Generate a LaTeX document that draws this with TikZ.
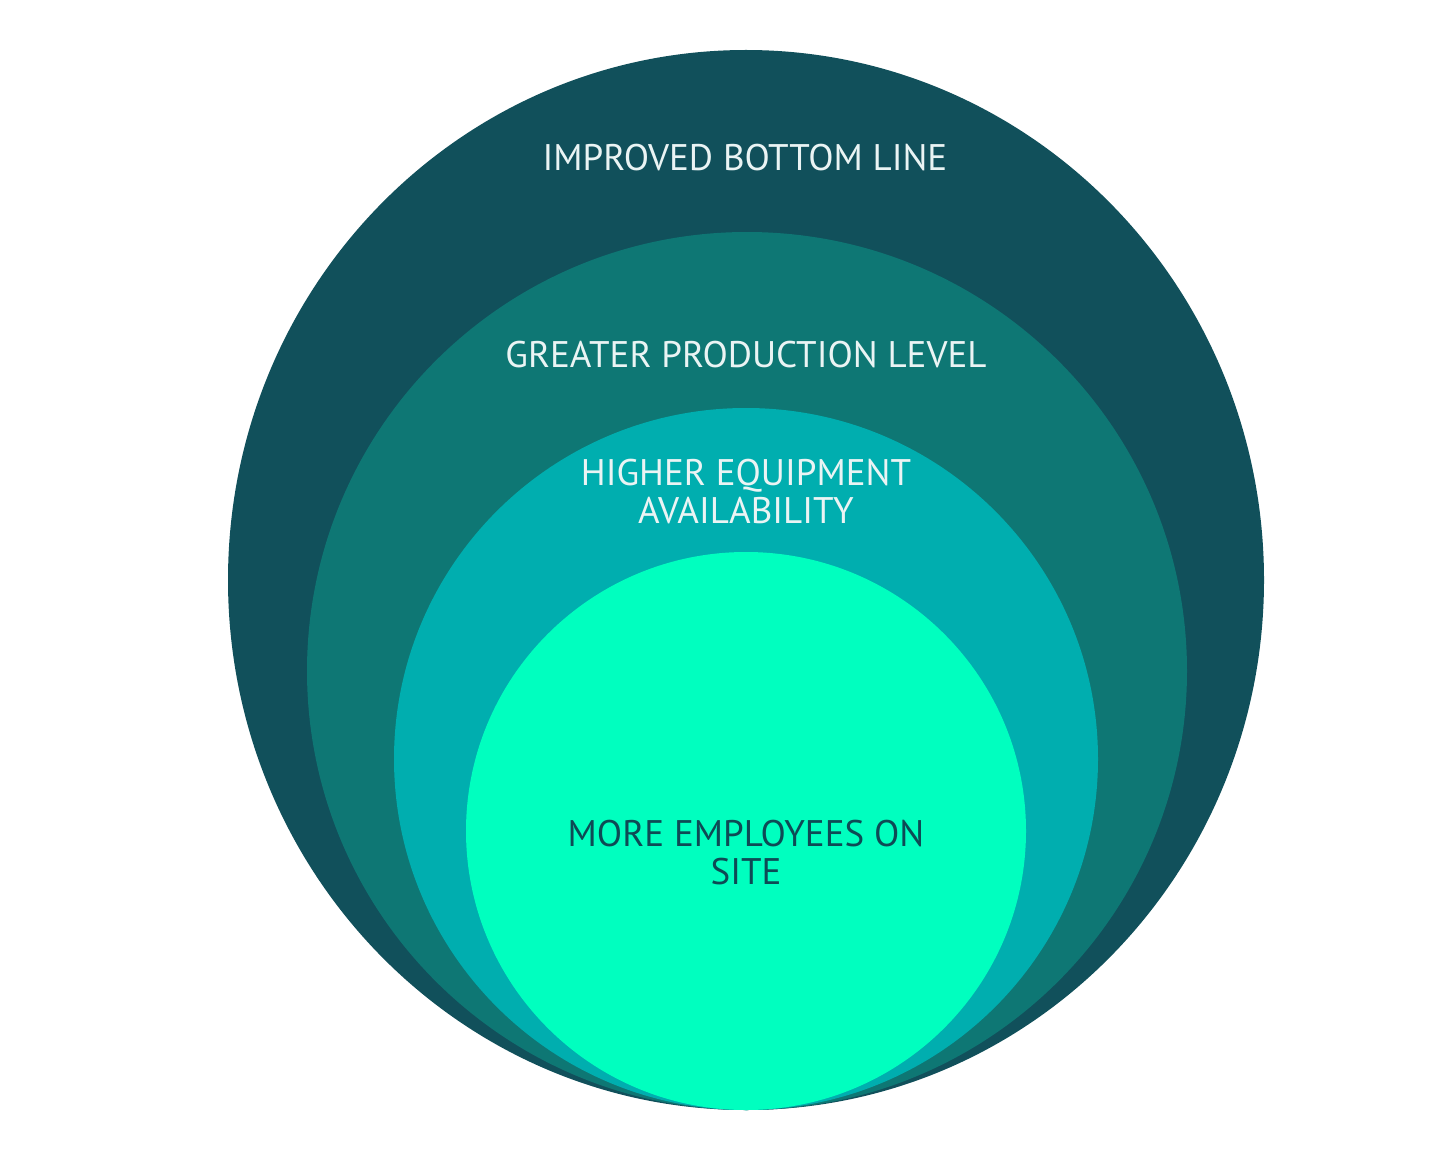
\documentclass[tikz,border=0pt]{standalone}
\usepackage{fontspec}
\setmainfont{PT Sans}
\definecolor{cA}{HTML}{11505B}
\definecolor{cB}{HTML}{0E7774}
\definecolor{cC}{HTML}{00AEAF}
\definecolor{cD}{HTML}{00FFBF}
\definecolor{tdark}{HTML}{0E4A55}
\definecolor{tlight}{HTML}{EAF4F4}
\begin{document}
\begin{tikzpicture}[x=1pt,y=-1pt,
  lbl/.style={font=\fontsize{37}{38}\selectfont, text=tlight, align=center, inner sep=0pt},
  lbldark/.style={lbl, text=tdark}]
\useasboundingbox (0,0) rectangle (1454,1158);
\fill[white] (0,0) rectangle (1454,1158);
\fill[cA] (746,580) ellipse [x radius=518, y radius=530];
\fill[cB] (747,671) ellipse [x radius=440, y radius=439];
\fill[cC] (746,759) ellipse [x radius=352, y radius=351];
\fill[cD] (746,831) ellipse [x radius=280, y radius=279];
\node[lbl] (t1) at (745,158) {IMPROVED BOTTOM LINE};
\node[lbl] (t2) at (746,355) {GREATER PRODUCTION LEVEL};
\node[lbl] (t3) at (746,492) {HIGHER EQUIPMENT\\AVAILABILITY};
\node[lbldark] (t4) at (746,853) {MORE EMPLOYEES ON\\SITE};
\end{tikzpicture}
\end{document}
